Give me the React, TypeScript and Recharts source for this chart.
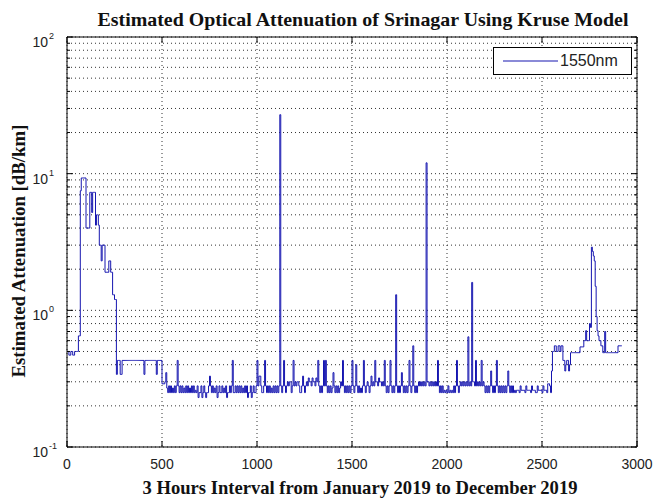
import { LineChart, Line, XAxis, YAxis, CartesianGrid, ReferenceArea, Legend } from 'recharts';

// one reading every 5 intervals (3-hour steps)
const STEP = 5;
const atten = [
  0.5, 0.5, 0.47, 0.47, 0.5, 0.5, 0.47, 0.47, 0.5, 0.5, 0.5, 0.5, 0.65, 0.65, 7.5, 9.3, 9.3, 9.3, 9.3, 9.3,
  4.0, 4.0, 4.0, 4.0, 7.3, 7.3, 5.2, 7.3, 7.3, 7.3, 4.2, 5.0, 5.0, 4.2, 3.0, 3.0, 2.3, 3.0, 3.0, 3.0,
  1.9, 1.9, 1.9, 1.9, 2.3, 2.3, 1.9, 1.9, 1.3, 1.3, 1.2, 1.2, 0.34, 0.43, 0.43, 0.43, 0.34, 0.34, 0.43, 0.43,
  0.43, 0.43, 0.43, 0.43, 0.43, 0.43, 0.43, 0.43, 0.43, 0.43, 0.43, 0.43, 0.43, 0.43, 0.43, 0.43, 0.43, 0.43, 0.43, 0.43,
  0.43, 0.34, 0.43, 0.43, 0.43, 0.43, 0.43, 0.43, 0.43, 0.43, 0.43, 0.43, 0.43, 0.43, 0.34, 0.43, 0.43, 0.43, 0.43, 0.43,
  0.29, 0.29, 0.29, 0.3, 0.35, 0.27, 0.25, 0.28, 0.25, 0.28, 0.25, 0.27, 0.25, 0.28, 0.25, 0.28, 0.43, 0.28, 0.25, 0.28,
  0.25, 0.28, 0.25, 0.27, 0.25, 0.28, 0.25, 0.28, 0.25, 0.27, 0.25, 0.28, 0.25, 0.28, 0.25, 0.26, 0.25, 0.28, 0.23, 0.25,
  0.25, 0.28, 0.23, 0.25, 0.28, 0.25, 0.23, 0.25, 0.25, 0.28, 0.33, 0.28, 0.25, 0.28, 0.25, 0.27, 0.25, 0.28, 0.23, 0.25,
  0.28, 0.25, 0.25, 0.28, 0.25, 0.27, 0.25, 0.28, 0.23, 0.25, 0.25, 0.28, 0.25, 0.28, 0.43, 0.25, 0.25, 0.28, 0.25, 0.28,
  0.25, 0.28, 0.25, 0.28, 0.25, 0.27, 0.25, 0.28, 0.25, 0.28, 0.23, 0.25, 0.25, 0.28, 0.23, 0.25, 0.28, 0.25, 0.25, 0.28,
  0.43, 0.28, 0.33, 0.33, 0.28, 0.25, 0.25, 0.28, 0.43, 0.28, 0.25, 0.28, 0.25, 0.28, 0.25, 0.27, 0.25, 0.28, 0.25, 0.28,
  0.25, 0.28, 0.25, 0.28, 27, 0.28, 0.25, 0.28, 0.43, 0.28, 0.25, 0.28, 0.3, 0.28, 0.3, 0.3, 0.25, 0.28, 0.43, 0.28,
  0.3, 0.28, 0.3, 0.3, 0.28, 0.25, 0.25, 0.28, 0.33, 0.28, 0.25, 0.28, 0.3, 0.28, 0.32, 0.3, 0.3, 0.28, 0.32, 0.3,
  0.3, 0.28, 0.32, 0.3, 0.43, 0.28, 0.25, 0.28, 0.25, 0.28, 0.43, 0.28, 0.43, 0.28, 0.25, 0.28, 0.25, 0.28, 0.25, 0.27,
  0.35, 0.28, 0.25, 0.28, 0.25, 0.28, 0.25, 0.27, 0.3, 0.28, 0.43, 0.28, 0.25, 0.28, 0.25, 0.28, 0.25, 0.28, 0.25, 0.28,
  0.43, 0.28, 0.25, 0.28, 0.4, 0.28, 0.25, 0.28, 0.25, 0.27, 0.25, 0.28, 0.43, 0.28, 0.25, 0.28, 0.3, 0.28, 0.25, 0.28,
  0.33, 0.28, 0.3, 0.28, 0.43, 0.3, 0.3, 0.28, 0.32, 0.3, 0.3, 0.28, 0.3, 0.28, 0.43, 0.28, 0.25, 0.28, 0.25, 0.28,
  0.43, 0.28, 0.25, 0.28, 0.25, 0.28, 1.3, 0.28, 0.25, 0.28, 0.25, 0.28, 0.35, 0.28, 0.25, 0.28, 0.25, 0.28, 0.25, 0.28,
  0.43, 0.28, 0.25, 0.28, 0.55, 0.28, 0.25, 0.28, 0.25, 0.28, 0.3, 0.28, 0.3, 0.28, 0.3, 0.28, 0.3, 0.28, 12, 0.3,
  0.3, 0.28, 0.3, 0.28, 0.3, 0.28, 0.3, 0.28, 0.3, 0.28, 0.43, 0.28, 0.25, 0.28, 0.25, 0.28, 0.25, 0.26, 0.25, 0.26,
  0.25, 0.28, 0.25, 0.26, 0.25, 0.26, 0.25, 0.28, 0.25, 0.28, 0.43, 0.28, 0.25, 0.28, 0.3, 0.28, 0.3, 0.28, 0.3, 0.28,
  0.3, 0.28, 0.64, 0.28, 0.3, 0.28, 1.6, 0.3, 0.3, 0.28, 0.43, 0.28, 0.3, 0.28, 0.3, 0.28, 0.43, 0.28, 0.3, 0.28,
  0.25, 0.28, 0.25, 0.28, 0.25, 0.28, 0.36, 0.28, 0.25, 0.28, 0.25, 0.28, 0.43, 0.28, 0.25, 0.28, 0.25, 0.28, 0.25, 0.28,
  0.25, 0.28, 0.25, 0.28, 0.36, 0.28, 0.25, 0.28, 0.25, 0.28, 0.25, 0.26, 0.25, 0.26, 0.26, 0.26, 0.25, 0.28, 0.26, 0.26,
  0.26, 0.26, 0.25, 0.28, 0.26, 0.26, 0.26, 0.26, 0.25, 0.28, 0.26, 0.26, 0.26, 0.25, 0.25, 0.28, 0.26, 0.26, 0.26, 0.26,
  0.25, 0.28, 0.26, 0.26, 0.26, 0.25, 0.29, 0.29, 0.28, 0.25, 0.36, 0.5, 0.5, 0.55, 0.55, 0.5, 0.5, 0.55, 0.55, 0.5,
  0.55, 0.55, 0.43, 0.43, 0.36, 0.4, 0.43, 0.43, 0.36, 0.4, 0.49, 0.49, 0.49, 0.49, 0.49, 0.49, 0.49, 0.49, 0.49, 0.49,
  0.54, 0.54, 0.54, 0.54, 0.6, 0.6, 0.71, 0.6, 0.6, 0.6, 0.8, 0.75, 2.9, 2.7, 2.5, 2.3, 1.5, 0.9, 0.71, 0.65,
  0.6, 0.6, 0.55, 0.55, 0.49, 0.49, 0.7, 0.49, 0.49, 0.49, 0.49, 0.49, 0.49, 0.49, 0.49, 0.49, 0.49, 0.49, 0.49, 0.49,
  0.55, 0.55, 0.55, 0.55, 0.55,
];

const xTicks = [0, 500, 1000, 1500, 2000, 2500, 3000];
const yTicks = [
  0.1, 0.2, 0.3, 0.4, 0.5, 0.6, 0.7, 0.8, 0.9,
  1, 2, 3, 4, 5, 6, 7, 8, 9,
  10, 20, 30, 40, 50, 60, 70, 80, 90, 100,
];
const seriesName = '1550nm';

const data = atten.map((v, i) => ({ t: i * STEP, v }));

const LINE = '#1616b0';
const SANS = '"Liberation Sans", Arial, sans-serif';
const SERIF = '"Liberation Serif", "Times New Roman", serif';
const W = 656;
const H = 498;
const M = { top: 37, right: 19, bottom: 0, left: 0 };
const Y_W = 67;
const X_H = 51;
const PLOT_W = W - M.left - M.right - Y_W;
const PLOT_H = H - M.top - M.bottom - X_H;

const isDecade = (v: number) => Math.abs(Math.log10(v) - Math.round(Math.log10(v))) < 1e-6;

const YTick = ({ x, y, payload }: any) => {
  const v = payload.value;
  const major = isDecade(v);
  const len = major ? 6 : 3;
  return (
    <g>
      <line x1={x} x2={x + len} y1={y} y2={y} stroke="#000" />
      <line x1={x + PLOT_W} x2={x + PLOT_W - len} y1={y} y2={y} stroke="#000" />
      {major && (
        <text fontFamily={SANS} fill="#222">
          <tspan x={x - 19} y={y + 10} fontSize={14} textAnchor="end">10</tspan>
          <tspan x={x - 18} y={y + 2} fontSize={9}>{Math.round(Math.log10(v))}</tspan>
        </text>
      )}
    </g>
  );
};

const XTick = ({ x, y, payload }: any) => (
  <g>
    <line x1={x} x2={x} y1={y} y2={y - 6} stroke="#000" />
    <line x1={x} x2={x} y1={y - PLOT_H} y2={y - PLOT_H + 6} stroke="#000" />
    <text x={x} y={y + 22} textAnchor="middle" fontFamily={SANS} fontSize={14} fill="#222">
      {payload.value}
    </text>
  </g>
);

const LegendBox = () => (
  <div
    style={{
      width: 137,
      height: 26,
      border: '1px solid #000',
      background: '#fff',
      display: 'flex',
      alignItems: 'center',
      fontFamily: SANS,
      fontSize: 16,
      color: '#222',
    }}
  >
    <svg width={66} height={10}>
      <line x1={9} x2={64} y1={5} y2={5} stroke={LINE} strokeWidth={1.2} />
    </svg>
    <span>{seriesName}</span>
  </div>
);

export default function App() {
  return (
    <div style={{ position: 'relative', width: W, height: H, background: '#fff' }}>
      <style>{'body{margin:0}'}</style>
      <LineChart width={W} height={H} data={data} margin={M}>
        <CartesianGrid stroke="#333" strokeDasharray="1 3" />
        <XAxis
          dataKey="t"
          type="number"
          domain={[0, 3000]}
          ticks={xTicks}
          height={X_H}
          axisLine={false}
          tickLine={false}
          tickSize={0}
          tickMargin={0}
          tick={<XTick />}
          interval={0}
        />
        <YAxis
          type="number"
          scale="log"
          domain={[0.1, 100]}
          allowDataOverflow
          ticks={yTicks}
          width={Y_W}
          axisLine={false}
          tickLine={false}
          tickSize={0}
          tickMargin={0}
          tick={<YTick />}
          interval={0}
        />
        <ReferenceArea x1={0} x2={3000} y1={0.1} y2={100} fill="none" stroke="#000" strokeWidth={1} />
        <Line
          type="stepAfter"
          dataKey="v"
          name={seriesName}
          stroke={LINE}
          strokeWidth={1}
          dot={false}
          isAnimationActive={false}
        />
        <Legend
          verticalAlign="middle"
          layout="horizontal"
          content={<LegendBox />}
          wrapperStyle={{ position: 'absolute', left: 493, top: 47, width: 'auto', height: 'auto' }}
        />
      </LineChart>
      <svg width={W} height={H} style={{ position: 'absolute', left: 0, top: 0, pointerEvents: 'none' }}>
        <text x={363} y={26} textAnchor="middle" fontFamily={SERIF} fontWeight="bold" fontSize={19}
          textLength={531} lengthAdjust="spacingAndGlyphs" fill="#111">
          Estimated Optical Attenuation of Srinagar Using Kruse Model
        </text>
        <text x={360} y={494} textAnchor="middle" fontFamily={SERIF} fontWeight="bold" fontSize={19}
          textLength={435} lengthAdjust="spacingAndGlyphs" fill="#111">
          3 Hours Interval from January 2019 to December 2019
        </text>
        <text transform="translate(25,251) rotate(-90)" textAnchor="middle" fontFamily={SERIF} fontWeight="bold"
          fontSize={19} textLength={253} lengthAdjust="spacingAndGlyphs" fill="#111">
          Estimated Attenuation [dB/km]
        </text>
      </svg>
    </div>
  );
}
